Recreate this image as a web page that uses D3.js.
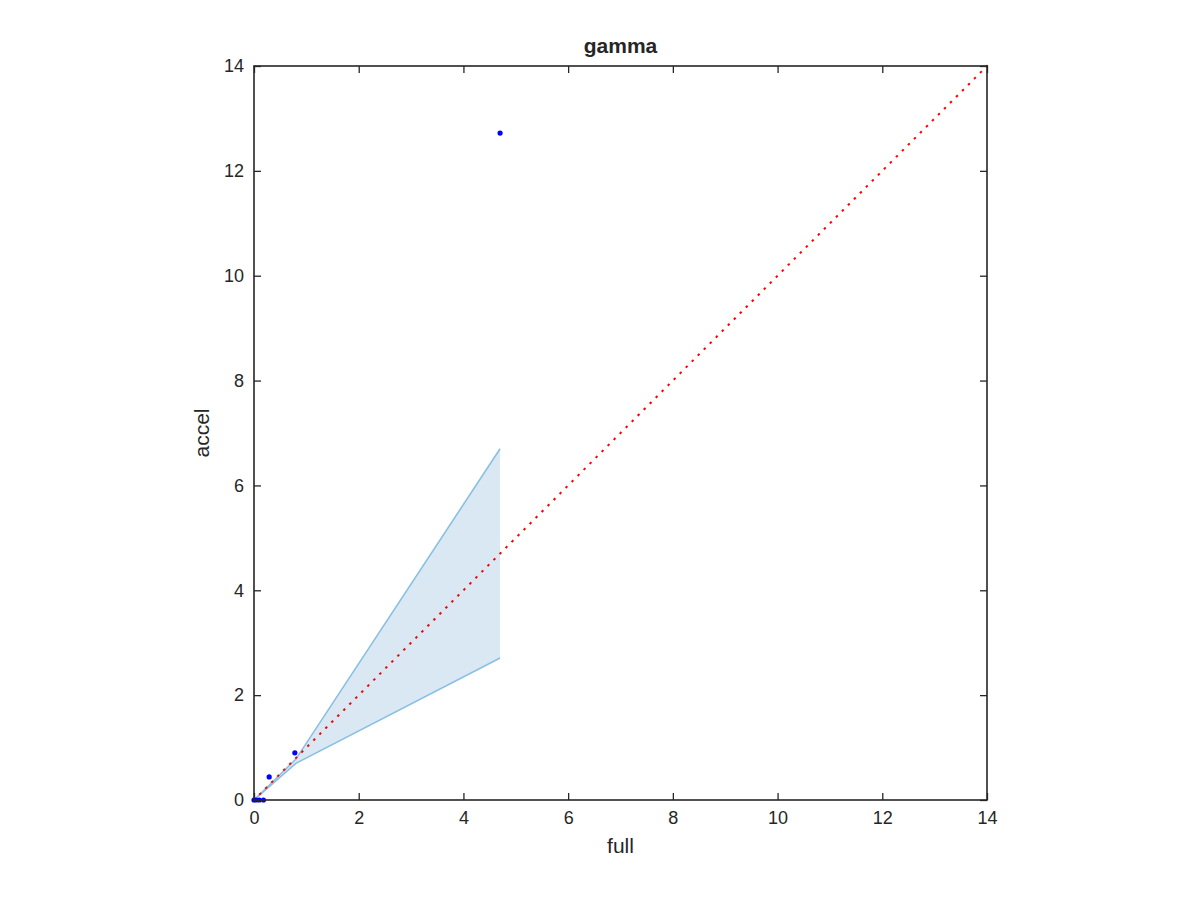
<!DOCTYPE html>
<html>
<head>
<meta charset="utf-8">
<script src="https://cdn.jsdelivr.net/npm/d3@7"></script>
<style>
  body { margin: 0; background: #fff; }
  svg text { font-family: "Liberation Sans", Arial, sans-serif; fill: #262626; }
</style>
</head>
<body>
<div id="chart"></div>
<script>
// data
var pointsFull  = [0, 0.04, 0.1, 0.18, 0.29, 0.78, 4.7];
var pointsAccel = [0, 0, 0, 0, 0.44, 0.9, 12.72];

var bandX     = [0, 0.8, 4.7];
var bandLower = [0, 0.7, 2.71];
var bandUpper = [0, 0.78, 6.7];

var diagX = [0, 14];
var ticks = [0, 2, 4, 6, 8, 10, 12, 14];

var W = 1200, H = 900;
var margin = {top: 66, right: 213, bottom: 100, left: 254};
var width = W - margin.left - margin.right;
var height = H - margin.top - margin.bottom;

var svg = d3.select("#chart").append("svg")
	.attr("width", W)
	.attr("height", H);

var g = svg.append("g")
	.attr("transform", "translate(" + margin.left + "," + margin.top + ")");

var x = d3.scaleLinear().domain([0, 14]).range([0, width]);
var y = d3.scaleLinear().domain([0, 14]).range([height, 0]);

// shaded band
var band = bandX.map(function (d, i) { return {x: d, lo: bandLower[i], hi: bandUpper[i]}; });
var area = d3.area()
	.x(function (d) { return x(d.x); })
	.y0(function (d) { return y(d.lo); })
	.y1(function (d) { return y(d.hi); });

g.append("path")
	.datum(band)
	.attr("d", area)
	.attr("fill", "rgb(218,232,244)")
	.attr("stroke", "none");

var edge = function (key) {
	return d3.line()
		.x(function (d) { return x(d.x); })
		.y(function (d) { return y(d[key]); });
};
["lo", "hi"].forEach(function (k) {
	g.append("path")
		.datum(band)
		.attr("d", edge(k))
		.attr("fill", "none")
		.attr("stroke", "rgb(137,192,226)")
		.attr("stroke-width", 1.6);
});

// diagonal y = x, dotted
g.append("line")
	.attr("x1", x(diagX[0])).attr("y1", y(diagX[0]))
	.attr("x2", x(diagX[1])).attr("y2", y(diagX[1]))
	.attr("stroke", "#ff0000")
	.attr("stroke-width", 2)
	.attr("stroke-linecap", "square")
	.attr("stroke-dasharray", "0.5,8");

// points
g.selectAll("circle.pt")
	.data(pointsFull.map(function (d, i) { return [d, pointsAccel[i]]; }))
	.enter().append("circle")
	.attr("class", "pt")
	.attr("cx", function (d) { return x(d[0]); })
	.attr("cy", function (d) { return y(d[1]); })
	.attr("r", 2.6)
	.attr("fill", "#0000ff");

// axes, box with ticks on all sides pointing in
var tickLen = 7;
var axisColor = "#262626";

function styleAxis(sel) {
	sel.select(".domain").remove();
	sel.selectAll(".tick line").attr("stroke", axisColor).attr("stroke-width", 1.3);
	sel.selectAll("text").style("font-size", "18px").attr("fill", axisColor);
}

g.append("g")
	.attr("transform", "translate(0," + height + ")")
	.call(d3.axisBottom(x).tickValues(ticks).tickSize(-tickLen).tickPadding(11))
	.call(styleAxis);

g.append("g")
	.call(d3.axisTop(x).tickValues(ticks).tickSize(-tickLen).tickFormat(""))
	.call(styleAxis);

g.append("g")
	.call(d3.axisLeft(y).tickValues(ticks).tickSize(-tickLen).tickPadding(10))
	.call(styleAxis);

g.append("g")
	.attr("transform", "translate(" + width + ",0)")
	.call(d3.axisRight(y).tickValues(ticks).tickSize(-tickLen).tickFormat(""))
	.call(styleAxis);

g.append("rect")
	.attr("width", width)
	.attr("height", height)
	.attr("fill", "none")
	.attr("stroke", axisColor)
	.attr("stroke-width", 1.6);

// labels
g.append("text")
	.attr("x", width / 2)
	.attr("y", -13)
	.attr("text-anchor", "middle")
	.style("font-size", "21px")
	.style("font-weight", "bold")
	.attr("fill", "#000")
	.text("gamma");

g.append("text")
	.attr("x", width / 2)
	.attr("y", height + 53)
	.attr("text-anchor", "middle")
	.style("font-size", "21px")
	.text("full");

g.append("text")
	.attr("transform", "translate(-45," + (height / 2) + ") rotate(-90)")
	.attr("text-anchor", "middle")
	.style("font-size", "21px")
	.text("accel");
</script>
</body>
</html>
